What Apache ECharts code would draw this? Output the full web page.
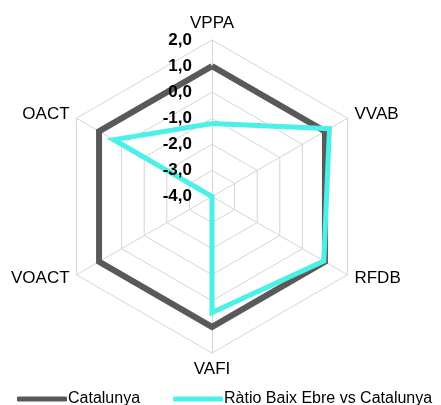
<!DOCTYPE html>
<html>
<head>
<meta charset="utf-8">
<script src="https://cdn.jsdelivr.net/npm/echarts@6/dist/echarts.min.js"></script>
<style>
  html, body { margin: 0; padding: 0; background: #fff; }
  #chart { width: 441px; height: 405px; }
</style>
</head>
<body>
<div id="chart"></div>
<script>
// indicadors en l'ordre que els dibuixa echarts (antihorari des de dalt)
const indicators = ['VPPA', 'OACT', 'VOACT', 'VAFI', 'RFDB', 'VVAB']
const axisMin = -4
const axisMax = 2

const seriesNames = ['Catalunya', 'Ràtio Baix Ebre vs Catalunya']
const catalunya = [1.0, 1.0, 1.0, 1.0, 1.0, 1.0]
const baixEbre = [-1.2, 0.35, -4.0, 0.45, 0.95, 1.2]

const colors = ['#595959', '#4df0e8']

const chart = echarts.init(document.getElementById('chart'), null, { renderer: 'canvas' })

const fmt = v => v.toFixed(1).replace('.', ',')

const radarBase = {
  center: [212, 196.5],
  radius: 156.5,
  startAngle: 90,
  splitNumber: 6,
  shape: 'polygon',
  nameGap: 8,
  axisTick: { show: false },
  splitArea: { show: false }
}

chart.setOption({
  animation: false,
  textStyle: { fontFamily: 'Liberation Sans, Arial, sans-serif' },
  legend: {
    top: 391,
    left: 17,
    width: 430,
    padding: 0,
    itemWidth: 50,
    itemHeight: 5,
    itemGap: 33,
    icon: 'roundRect',
    textStyle: { color: '#000', fontSize: 16, padding: [0, 0, 0, -4] },
    data: seriesNames
  },
  radar: [
    // graella (per sota de les sèries)
    Object.assign({}, radarBase, {
      z: 0,
      axisName: { color: '#000', fontSize: 17 },
      splitLine: { lineStyle: { color: '#d4d4d4', width: 1 } },
      axisLine: { lineStyle: { color: '#d4d4d4', width: 1 } },
      axisLabel: { show: false },
      indicator: indicators.map(name => ({ name, min: axisMin, max: axisMax }))
    }),
    // etiquetes de l'eix (per sobre de les sèries)
    Object.assign({}, radarBase, {
      z: 5,
      axisName: { show: false },
      splitLine: { show: false },
      axisLine: { show: false },
      axisLabel: { show: false },
      indicator: indicators.map((name, i) => ({
        name,
        min: axisMin,
        max: axisMax,
        axisLabel: i === 0
          ? { show: true, margin: 20, color: '#000', fontSize: 17, fontWeight: 'bold', formatter: fmt }
          : { show: false }
      }))
    })
  ],
  series: [{
    type: 'radar',
    radarIndex: 0,
    symbol: 'none',
    data: [
      {
        name: seriesNames[0],
        value: catalunya,
        lineStyle: { color: colors[0], width: 6, join: 'miter' },
        itemStyle: { color: colors[0] }
      },
      {
        name: seriesNames[1],
        value: baixEbre,
        lineStyle: { color: colors[1], width: 5, join: 'miter' },
        itemStyle: { color: colors[1] }
      }
    ]
  }]
})
</script>
</body>
</html>
